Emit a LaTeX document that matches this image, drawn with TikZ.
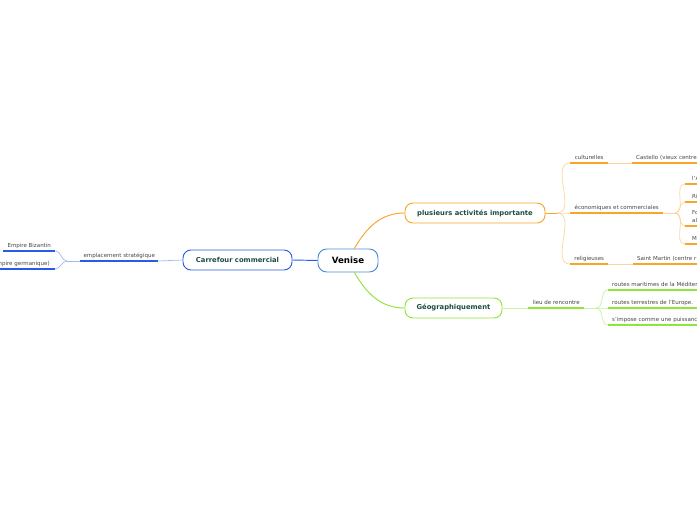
\documentclass[tikz,border=0pt]{standalone}
\usepackage{fontspec}
\setmainfont{DejaVu Sans}
\usetikzlibrary{arrows.meta,positioning}
\definecolor{centreblue}{RGB}{74,143,214}
\definecolor{tradeblue}{RGB}{40,92,232}
\definecolor{paleblue}{RGB}{160,186,245}
\definecolor{activorange}{RGB}{247,166,42}
\definecolor{paleorange}{RGB}{252,214,158}
\definecolor{geogreen}{RGB}{143,229,59}
\definecolor{palegreen}{RGB}{204,243,165}
\definecolor{topicteal}{RGB}{27,77,68}
\definecolor{leafgray}{RGB}{70,70,70}
\newcommand{\leaffont}{\fontsize{4.7}{6.8}\selectfont}
\tikzset{
  mainidea/.style={
    draw=centreblue,
    line width=0.8pt,
    rounded corners=2.6mm,
    fill=white,
    minimum width=18mm,
    minimum height=6.9mm,
    font=\bfseries\fontsize{7.4}{8.5}\selectfont
  },
  topicbox/.style={
    draw=#1,
    line width=0.8pt,
    rounded corners=2.4mm,
    fill=white,
    minimum height=6mm,
    text=topicteal,
    font=\bfseries\fontsize{5.8}{7}\selectfont
  },
  leaf/.style={
    anchor=south west,
    inner xsep=0pt,
    inner ysep=2.8pt,
    text depth=0pt,
    text=leafgray,
    font=\leaffont
  },
  leafcut/.style={
    leaf,
    text width=40mm,
    align=left,
    inner xsep=#1
  },
  underline/.style={draw=#1,line width=1.5pt},
  twig/.style={draw=#1,line width=0.6pt}
}

\begin{document}
\begin{tikzpicture}[x=0.3mm,y=-0.3mm]
  \useasboundingbox (0,0) rectangle (697,520);
  \fill[white] (0,0) rectangle (697,520);

  % Central idea and main topics
  \node[mainidea] (ven) at (348,260.5) {Venise};
  \node[topicbox=tradeblue,minimum width=32.7mm] (car) at (237.5,260) {Carrefour commercial};
  \node[topicbox=activorange,minimum width=42mm] (act) at (475,213) {plusieurs activités importante};
  \node[topicbox=geogreen,minimum width=29.1mm] (geo) at (453.5,308) {Géographiquement};

  \draw[twig=tradeblue,line width=0.8pt] (ven.west) -- (car.east);
  \draw[twig=activorange,line width=0.8pt] (ven.62) to[out=60,in=180] (act.west);
  \draw[twig=geogreen,line width=0.8pt] (ven.-62) to[out=-60,in=180] (geo.west);

  % Carrefour commercial
  \node[leaf,minimum width=23.4mm] (empl) at (80,261) {emplacement stratégique};
  \node[leaf,minimum width=15.6mm] (biz) at (3,251) {Empire Bizantin};
  \node[leafcut=1.5mm,anchor=south east,align=right] (germ) at (55,269) {Empire germanique)};
  \coordinate (lbranch) at (67,261);

  \draw[twig=paleblue] (car.west) -- (empl.south east);
  \draw[twig=paleblue] (empl.south west) -- (lbranch);
  \draw[twig=paleblue] (lbranch) to[out=180,in=0] (biz.south east);
  \draw[twig=paleblue] (lbranch) to[out=180,in=0] (germ.south east);
  \foreach \leafname in {empl,biz,germ}
    \draw[underline=tradeblue] (\leafname.south west) -- (\leafname.south east);

  % plusieurs activites importante
  \coordinate (abranch) at (557,213);
  \node[leaf,minimum width=11.4mm] (cult) at (570,163) {culturelles};
  \node[leaf,minimum width=27.9mm] (eco) at (570,213) {économiques et commerciales};
  \node[leaf,minimum width=11.4mm] (rel) at (570,264) {religieuses};
  \node[leafcut=1.2mm] (cast) at (632,163) {Castello (vieux centre};
  \node[leafcut=1.2mm] (stm) at (633,264) {Saint Martin (centre r};

  \coordinate (ebranch) at (675,213);
  \node[leafcut=2.1mm] (arse) at (685,184) {l'A};
  \node[leafcut=2.1mm] (rial) at (685,202) {Ri};
  \node[leafcut=2.1mm,text depth=6.8pt] (fond) at (685,226) {Fo\\al};
  \node[leafcut=2.1mm] (merc) at (685,244) {M};

  \draw[twig=activorange] (act.east) -- (abranch);
  \foreach \leafname in {cult,eco,rel}
    \draw[twig=paleorange] (abranch) to[out=0,in=180] (\leafname.south west);
  \draw[twig=paleorange] (cult.south east) -- (cast.south west);
  \draw[twig=paleorange] (rel.south east) -- (stm.south west);
  \draw[twig=paleorange] (eco.south east) -- (ebranch);
  \foreach \leafname in {arse,rial,fond,merc}
    \draw[twig=paleorange] (ebranch) to[out=0,in=180] (\leafname.south west);
  \foreach \leafname in {cult,eco,rel,cast,stm,arse,rial,fond,merc}
    \draw[underline=activorange] (\leafname.south west) -- (\leafname.south east);

  % Geographiquement
  \node[leaf,minimum width=16.8mm] (lieu) at (528,308) {lieu de rencontre};
  \coordinate (gbranch) at (596,308);
  \node[leafcut=1.2mm] (mari) at (608,290) {routes maritimes de la Méditer};
  \node[leafcut=1.2mm] (terr) at (608,308) {routes terrestres de l'Europe.};
  \node[leafcut=1.2mm] (puis) at (608,325) {s'impose comme une puissanc};

  \draw[twig=palegreen] (geo.east) -- (lieu.south west);
  \draw[twig=palegreen] (lieu.south east) -- (gbranch);
  \foreach \leafname in {mari,terr,puis}
    \draw[twig=palegreen] (gbranch) to[out=0,in=180] (\leafname.south west);
  \foreach \leafname in {lieu,mari,terr,puis}
    \draw[underline=geogreen] (\leafname.south west) -- (\leafname.south east);
\end{tikzpicture}
\end{document}
